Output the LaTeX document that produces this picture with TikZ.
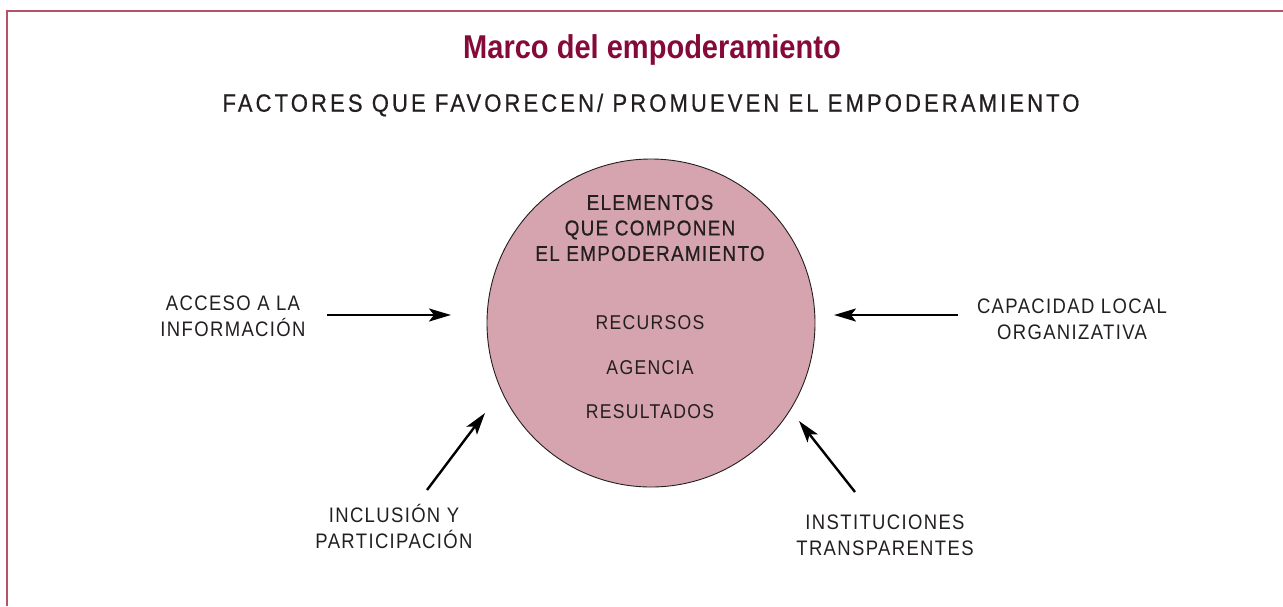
\documentclass[tikz,border=0pt]{standalone}
\usepackage{fontspec}
\setmainfont{Liberation Sans}
\newfontfamily\titlefont[FakeStretch=0.88]{Liberation Sans}
\newfontfamily\headfont[FakeStretch=0.88,LetterSpace=12.5,FakeBold=0.6]{Liberation Sans}
\newfontfamily\boxfont[FakeStretch=0.88,LetterSpace=6,FakeBold=0.6]{Liberation Sans}
\newfontfamily\capsfont[FakeStretch=0.88,LetterSpace=6.5]{Liberation Sans}
\usetikzlibrary{arrows.meta}

\definecolor{frameline}{HTML}{B5536B}
\definecolor{wine}{HTML}{850A3A}
\definecolor{rose}{HTML}{D6A4AE}
\definecolor{ink}{HTML}{231F20}

\begin{document}
\begin{tikzpicture}[x=1pt,y=-1pt,
	arrows={-Stealth[length=22pt,width=13pt,inset=5pt]},
	factor/.style={align=center,text=ink,font=\capsfont\fontsize{21}{26}\selectfont},
	element/.style={text=ink,font=\capsfont\fontsize{20}{22}\selectfont}]
	\useasboundingbox (0,0) rectangle (1283,606);
	% frame
	\draw[-, frameline, line width=2.2pt] (7,606) -- (7,11) -- (1283,11);
	% titles
	\node (T) at (652,50) {\titlefont\bfseries\fontsize{33}{36}\selectfont\color{wine}Marco del empoderamiento};
	\node (S) at (651,105) {\headfont\fontsize{25}{28}\selectfont\color{ink}FACTORES QUE FAVORECEN/ PROMUEVEN EL EMPODERAMIENTO};
	% circle
	\node (E) at (651,323) [circle, draw=ink, line width=0.9pt, fill=rose, minimum size=328pt, inner sep=0pt] {};
	\node (H) at (650,228) [align=center,text=ink,font=\boxfont\fontsize{21.5}{25.5}\selectfont] {ELEMENTOS\\QUE COMPONEN\\EL EMPODERAMIENTO};
	\node (R1) at (650,323) [element] {RECURSOS};
	\node (R2) at (650,368) [element] {AGENCIA};
	\node (R3) at (650,412) [element] {RESULTADOS};
	% factors
	\node (A1) at (233,316) [factor] {ACCESO A LA\\INFORMACIÓN};
	\node (A2) at (1072,319) [factor] {CAPACIDAD LOCAL\\ORGANIZATIVA};
	\node (A3) at (394,526) [factor] {INCLUSIÓN Y\\PARTICIPACIÓN};
	\node (A4) at (885,535) [factor] {INSTITUCIONES\\TRANSPARENTES};
	\coordinate (P1) at (327,315);
	\coordinate (Q1) at (451,315);
	\coordinate (P2) at (958,315);
	\coordinate (Q2) at (834,315);
	\coordinate (P3) at (427,490);
	\coordinate (Q3) at (485,413);
	\coordinate (P4) at (855,492);
	\coordinate (Q4) at (799,421);
	\draw[line width=2.4pt] (P1) to (Q1);
	\draw[line width=2.4pt] (P2) to (Q2);
	\draw[line width=2.4pt] (P3) to (Q3);
	\draw[line width=2.4pt] (P4) to (Q4);
\end{tikzpicture}
\end{document}
